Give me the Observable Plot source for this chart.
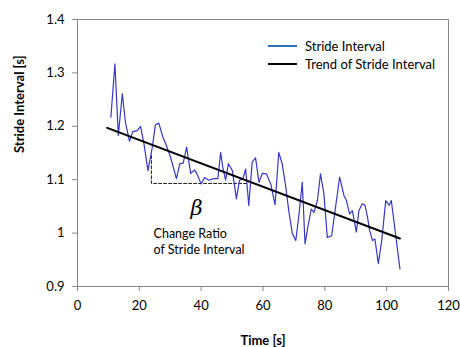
<!DOCTYPE html>
<html><head>
<meta charset="utf-8">
<script src="https://cdn.jsdelivr.net/npm/d3@7"></script>
<script src="https://cdn.jsdelivr.net/npm/@observablehq/plot@0.6"></script>
<style>
body{margin:0;background:#fff;}
#wrap{position:relative;width:460px;height:347px;font-family:Lato,"Open Sans",sans-serif;}
.leg{position:absolute;left:268px;font-size:13px;color:#000;display:flex;align-items:center;height:16px;font-family:Lato,"Open Sans",sans-serif;}
.leg .sw{display:inline-block;width:29px;height:0;border-top:2px solid;margin-right:8px;}
</style></head><body><div id="wrap"></div>
<script>
// Stride interval series (time [s], interval [s])
const time = [10.8,12.1,13.2,14.5,15.5,16.8,17.9,19.3,20.4,21.5,22.8,24.2,25.2,26.3,27.6,28.7,30.1,32.0,33.1,34.2,35.3,36.6,37.9,38.7,40.0,41.1,42.5,44.1,45.4,46.3,47.0,47.9,48.8,50.1,51.4,52.4,53.5,54.4,55.4,56.5,57.6,58.7,59.8,61.1,62.5,63.9,65.1,66.2,67.3,68.4,69.5,70.6,71.6,72.7,73.6,74.5,75.6,76.5,77.6,78.6,79.7,80.8,82.2,83.5,84.8,86.2,87.0,88.0,88.9,90.2,91.0,92.1,93.0,93.8,94.5,95.4,96.2,97.3,98.4,99.7,100.8,101.5,104.3];
const stride = [1.217,1.317,1.183,1.261,1.208,1.172,1.190,1.192,1.200,1.167,1.117,1.161,1.203,1.206,1.180,1.165,1.142,1.102,1.130,1.131,1.161,1.112,1.118,1.110,1.092,1.104,1.099,1.102,1.102,1.151,1.123,1.099,1.130,1.117,1.064,1.099,1.102,1.120,1.052,1.133,1.141,1.095,1.112,1.111,1.092,1.053,1.151,1.130,1.089,1.039,0.999,0.986,1.033,1.095,0.980,1.011,1.045,1.039,1.061,1.111,1.074,0.992,0.995,1.050,1.105,1.070,1.061,1.036,1.042,1.002,1.042,1.055,1.052,1.030,1.005,0.986,0.989,0.943,0.986,1.061,1.052,1.061,0.933];
// Linear trend
const trendTime = [9.6, 104.3];
const trendValue = [1.197, 0.990];
// Change-ratio guide (dashed)
const guideTime = [23.9, 23.9, 54.9];
const guideValue = [1.145, 1.093, 1.093];
// Ticks
const xTicks = [0, 20, 40, 60, 80, 100, 120];
const yTicks = [0.9, 1.0, 1.1, 1.2, 1.3, 1.4];
// Labels
const xLabel = "Time [s]";
const yLabel = "Stride Interval [s]";
const seriesNames = ["Stride Interval", "Trend of Stride Interval"];
const betaLabel = {t: 38.5, v: 1.046, text: "β"};
const ratioLabel = {t: 24.6, v: 0.986, text: "Change Ratio\nof Stride Interval"};

const series = time.map((t, i) => ({t, v: stride[i]}));
const trend = trendTime.map((t, i) => ({t, v: trendValue[i]}));
const guide = guideTime.map((t, i) => ({t, v: guideValue[i]}));
const font = "Lato, 'Open Sans', sans-serif";
const fmt = d => String(+d.toFixed(1));

const chart = Plot.plot({
  width: 460, height: 347,
  marginLeft: 77, marginRight: 12, marginTop: 19, marginBottom: 61,
  style: {fontFamily: font, fontSize: "13px", background: "#fff", color: "#000"},
  x: {domain: [0, 120]},
  y: {domain: [0.9, 1.4]},
  marks: [
    Plot.frame({stroke: "#878787"}),
    Plot.axisX({ticks: xTicks, tickSize: 5, tickPadding: 9, stroke: "#878787", fill: "#000", fontSize: 13, label: null, tickFormat: fmt}),
    Plot.axisY({ticks: yTicks, tickSize: 5, tickPadding: 8, stroke: "#878787", fill: "#000", fontSize: 13, label: null, tickFormat: fmt}),
    Plot.line(guide, {x: "t", y: "v", stroke: "#000", strokeWidth: 0.9, strokeDasharray: "3,2"}),
    Plot.line(series, {x: "t", y: "v", stroke: "#3838c8", strokeWidth: 1.2}),
    Plot.line(trend, {x: "t", y: "v", stroke: "#000", strokeWidth: 2}),
    Plot.text([betaLabel], {x: "t", y: "v", text: "text", fontSize: 21, fontStyle: "italic", fontFamily: "'DejaVu Serif', serif", fill: "#000"}),
    Plot.text([ratioLabel], {x: "t", y: "v", text: "text", fontSize: 12.5, textAnchor: "start", lineHeight: 1.3, fill: "#000"}),
    Plot.text([xLabel], {frameAnchor: "bottom", dy: 58, fontWeight: "bold", fontSize: 13, fill: "#000"}),
    Plot.text([yLabel], {frameAnchor: "left", dx: -58, rotate: -90, fontWeight: "bold", fontSize: 13, fill: "#000"})
  ]
});
const wrap = document.getElementById("wrap");
wrap.appendChild(chart);
const colors = ["#2e75b6", "#000"];
const tops = [38, 56];
seriesNames.forEach((name, i) => {
  const d = document.createElement("div");
  d.className = "leg";
  d.style.top = tops[i] + "px";
  const sw = document.createElement("span");
  sw.className = "sw";
  sw.style.borderColor = colors[i];
  d.appendChild(sw);
  d.appendChild(document.createTextNode(name));
  wrap.appendChild(d);
});
</script>
</body></html>
